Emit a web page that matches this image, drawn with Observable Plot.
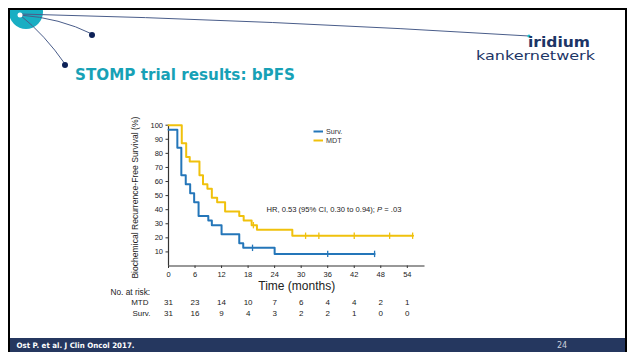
<!DOCTYPE html>
<html>
<head>
<meta charset="utf-8">
<script src="https://cdn.jsdelivr.net/npm/d3@7"></script>
<script src="https://cdn.jsdelivr.net/npm/@observablehq/plot@0.6"></script>
<style>
  html, body { margin: 0; padding: 0; background: #fff; }
  #slide { position: relative; width: 630px; height: 352px; overflow: hidden; background: #fff; }
  #slide > svg { position: absolute; left: 0; top: 0; }
</style>
</head>
<body>
<div id="slide">
  <svg id="deco" width="630" height="352">
    <defs><clipPath id="inner"><rect x="10" y="10" width="615" height="330"/></clipPath></defs>
    <circle cx="26" cy="12" r="17" fill="#19aec3" clip-path="url(#inner)"/>
    <path d="M20,14 Q270,20 529,36" fill="none" stroke="#4a5d8a" stroke-width="1"/>
    <path d="M20,15 Q60,18 92,34" fill="none" stroke="#4a5d8a" stroke-width="1"/>
    <path d="M20,15 Q45,35 65,64" fill="none" stroke="#4a5d8a" stroke-width="1"/>
    <circle cx="20" cy="15" r="2.5" fill="#ffffff"/>
    <circle cx="92" cy="35" r="3" fill="#0d2157"/>
    <circle cx="65" cy="65" r="3" fill="#0d2157"/>
    <circle cx="529" cy="36" r="1.6" fill="#19c0d0"/>
    <text x="528" y="47" font-family="DejaVu Sans" font-weight="bold" font-size="14" fill="#1c3566" textLength="62" lengthAdjust="spacingAndGlyphs">iridium</text>
    <text x="476" y="60" font-family="DejaVu Sans" font-size="13" fill="#1c3566" textLength="119" lengthAdjust="spacingAndGlyphs">kankernetwerk</text>
    <text x="75" y="80" font-family="DejaVu Sans" font-weight="bold" font-size="16.5" fill="#17a1b6" textLength="220" lengthAdjust="spacingAndGlyphs">STOMP trial results: bPFS</text>
    <rect x="9" y="338" width="617" height="14" fill="#25375f"/>
    <text x="16.5" y="347.5" font-family="DejaVu Sans" font-weight="bold" font-size="7.5" fill="#ffffff" textLength="118" lengthAdjust="spacingAndGlyphs">Ost P. et al. J Clin Oncol 2017.</text>
    <text x="557" y="348" font-family="DejaVu Sans" font-size="8" fill="#c9cfdc">24</text>
    <line x1="8" y1="9" x2="627" y2="9" stroke="#000" stroke-width="2"/>
    <line x1="9" y1="8" x2="9" y2="352" stroke="#000" stroke-width="2"/>
    <line x1="626" y1="8" x2="626" y2="352" stroke="#000" stroke-width="2"/>
  </svg>
</div>
<script>
// ---- data ----
const mdtTimes = [0, 3, 4, 4.8, 7, 7.8, 8.8, 9.8, 11, 12.8, 16, 17, 18.8, 20, 28, 55.3];
const mdtSurv  = [100, 87.1, 77.4, 74.2, 64.5, 58.1, 54.8, 48.4, 45.2, 38.7, 35.5, 32.3, 29.0, 25.8, 21.5, 21.5];
const survTimes = [0, 2, 2.9, 3.9, 4.9, 5.8, 6.8, 9, 9.8, 12, 16, 16.9, 24, 46.6];
const survVals  = [96.8, 83.9, 64.5, 58.1, 51.6, 45.2, 35.5, 32.3, 29.0, 22.6, 16.1, 12.9, 8.6, 8.6];
const mdtCensorTimes = [19.2, 31, 34, 42, 50, 55.2];
const mdtCensorVals  = [29.0, 21.5, 21.5, 21.5, 21.5, 21.5];
const survCensorTimes = [19, 36, 46.6];
const survCensorVals  = [12.9, 8.6, 8.6];
const xTicks = [0, 6, 12, 18, 24, 30, 36, 42, 48, 54];
const yTicks = [10, 20, 30, 40, 50, 60, 70, 80, 90, 100];
const riskTimes = [0, 6, 12, 18, 24, 30, 36, 42, 48, 54];
const riskMDT  = [31, 23, 14, 10, 7, 6, 4, 4, 2, 1];
const riskSurv = [31, 16, 9, 4, 3, 2, 2, 1, 0, 0];
const seriesNames = ["Surv.", "MDT"];
const riskRowNames = ["MTD", "Surv."];
const seriesColors = ["#2476b9", "#f0c10c"];
const yLabel = "Biochemical Recurrence-Free Survival (%)";
const xLabel = "Time (months)";
const hrText = ["HR, 0.53 (95% CI, 0.30 to 0.94); ", "P", " = .03"];

// ---- build ----
const toRows = (ts, vs) => ts.map((t, i) => ({t, v: vs[i]}));
const mdtRows = toRows(mdtTimes, mdtSurv);
const survRows = toRows(survTimes, survVals);
const mdtCens = toRows(mdtCensorTimes, mdtCensorVals);
const survCens = toRows(survCensorTimes, survCensorVals);
const [cSurv, cMDT] = seriesColors;
const vbar = {draw(ctx, size) { const r = Math.sqrt(size / Math.PI); ctx.moveTo(0, -r); ctx.lineTo(0, r); }};
const font = "'Liberation Sans', Arial, Helvetica, sans-serif";
const txt = {fill: "#222", lineAnchor: "middle"};

const chart = Plot.plot({
  width: 630, height: 352,
  marginLeft: 168, marginRight: 205.5, marginTop: 124.7, marginBottom: 86.5,
  style: {background: "transparent", fontFamily: font, fontSize: "7.5px", color: "#222", overflow: "visible"},
  x: {domain: [0, 58]},
  y: {domain: [0, 100]},
  marks: [
    Plot.axisX({ticks: xTicks, tickSize: 2.5, tickPadding: 3, label: null, stroke: "#333"}),
    Plot.axisY({ticks: yTicks, tickSize: 2.5, tickPadding: 3, label: null, stroke: "#333"}),
    Plot.ruleX([0], {stroke: "#333", strokeWidth: 1.2}),
    Plot.ruleY([0], {stroke: "#333", strokeWidth: 1.2}),
    Plot.line(mdtRows, {x: "t", y: "v", curve: "step-after", stroke: cMDT, strokeWidth: 2}),
    Plot.line(survRows, {x: "t", y: "v", curve: "step-after", stroke: cSurv, strokeWidth: 2}),
    Plot.dot(mdtCens, {x: "t", y: "v", symbol: vbar, r: 3.2, fill: "none", stroke: cMDT, strokeWidth: 1.3}),
    Plot.dot(survCens, {x: "t", y: "v", symbol: vbar, r: 3.2, fill: "none", stroke: cSurv, strokeWidth: 1.3}),
    Plot.text([yLabel], {...txt, frameAnchor: "left", textAnchor: "middle", dx: -34, dy: 2, rotate: -90, fontSize: 9.6, className: "ylab"}),
    Plot.text([xLabel], {...txt, frameAnchor: "bottom", dy: 20, fontSize: 12}),
    Plot.text(["No. at risk:"], {...txt, frameAnchor: "bottom-left", dx: -58, dy: 26, textAnchor: "start", fontSize: 8.3}),
    Plot.text([riskRowNames[0]], {...txt, frameAnchor: "bottom-left", dx: -20, dy: 36, textAnchor: "end", fontSize: 8}),
    Plot.text([riskRowNames[1]], {...txt, frameAnchor: "bottom-left", dx: -18, dy: 47.5, textAnchor: "end", fontSize: 8}),
    Plot.text(riskMDT, {...txt, x: riskTimes, frameAnchor: "bottom", dy: 36, fontSize: 8}),
    Plot.text(riskSurv, {...txt, x: riskTimes, frameAnchor: "bottom", dy: 47.5, fontSize: 8})
  ]
});
// narrow the rotated y label to the reference's length
chart.querySelectorAll("g.ylab text").forEach(t => {
  t.setAttribute("textLength", 162);
  t.setAttribute("lengthAdjust", "spacingAndGlyphs");
});
document.getElementById("slide").appendChild(chart);

// legend + annotation overlay
const ns = "http://www.w3.org/2000/svg";
const ov = document.createElementNS(ns, "svg");
ov.setAttribute("width", 630); ov.setAttribute("height", 352);
const legendY = [131.5, 140.5];
seriesNames.forEach((name, i) => {
  const l = document.createElementNS(ns, "line");
  l.setAttribute("x1", 313.5); l.setAttribute("x2", 323); l.setAttribute("y1", legendY[i]); l.setAttribute("y2", legendY[i]);
  l.setAttribute("stroke", seriesColors[i]); l.setAttribute("stroke-width", 2);
  ov.appendChild(l);
  const t = document.createElementNS(ns, "text");
  t.setAttribute("x", 326); t.setAttribute("y", legendY[i] + 2.6);
  t.setAttribute("font-family", font); t.setAttribute("font-size", 7.2); t.setAttribute("fill", "#333");
  t.textContent = name;
  ov.appendChild(t);
});
const hr = document.createElementNS(ns, "text");
hr.setAttribute("x", 266.5); hr.setAttribute("y", 211.8);
hr.setAttribute("font-family", font); hr.setAttribute("font-size", 7.6); hr.setAttribute("fill", "#222");
hrText.forEach((s, i) => {
  const sp = document.createElementNS(ns, "tspan");
  if (i === 1) sp.setAttribute("font-style", "italic");
  sp.textContent = s;
  hr.appendChild(sp);
});
ov.appendChild(hr);
document.getElementById("slide").appendChild(ov);
</script>
</body>
</html>
